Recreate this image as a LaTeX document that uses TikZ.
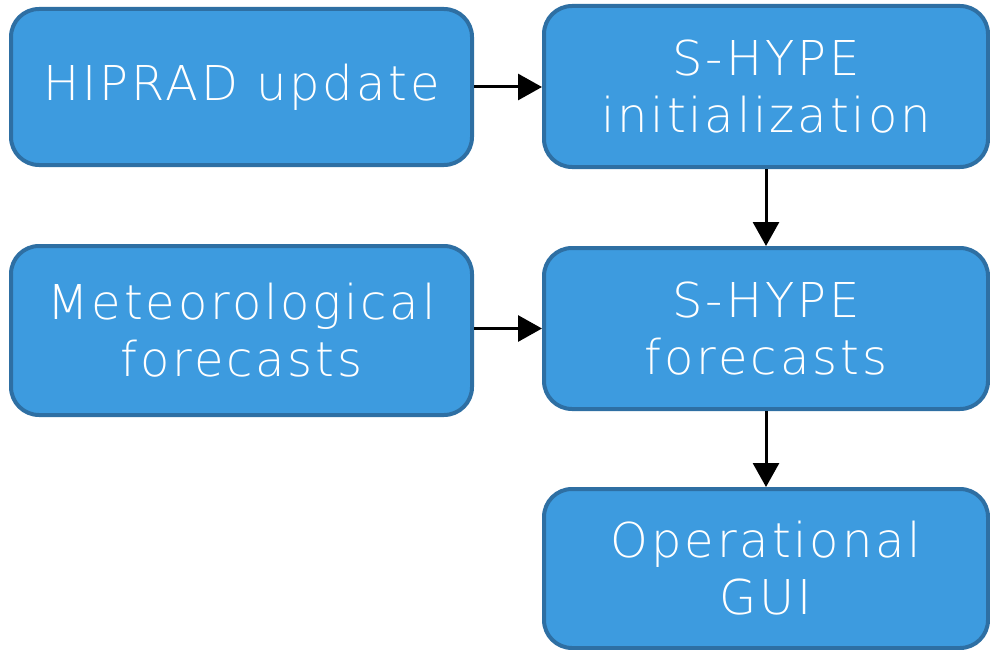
\documentclass[tikz,border=0pt]{standalone}
\usepackage{fontspec}
\setmainfont[LetterSpace=6]{DejaVu Sans ExtraLight}
\usetikzlibrary{arrows.meta}
\definecolor{boxfill}{HTML}{3D9BDF}
\definecolor{boxline}{HTML}{2E6FA3}
\begin{document}
\begin{tikzpicture}[x=1pt,y=-1pt,
  flowbox/.style={draw=boxline,fill=boxfill,line width=4pt,rounded corners=28pt,
    text=white,align=center,font=\fontsize{48}{57}\selectfont,inner sep=0pt},
  flowarrow/.style={line width=3pt,-{Triangle[length=24pt,width=26pt]}}]
\useasboundingbox (0,0) rectangle (990,650);
\node[flowbox,minimum width=461pt,minimum height=156pt] (hiprad) at (241.5,87) {HIPRAD update};
\node[flowbox,minimum width=444pt,minimum height=161pt] (init) at (766,86.5) {S-HYPE\\initialization};
\node[flowbox,minimum width=461pt,minimum height=169pt] (meteo) at (241.5,330.5) {Meteorological\\forecasts};
\node[flowbox,minimum width=444pt,minimum height=161pt] (fc) at (766,328.5) {S-HYPE\\forecasts};
\node[flowbox,minimum width=444pt,minimum height=159pt] (gui) at (766,568.5) {Operational\\GUI};
\draw[flowarrow] (hiprad.east) -- (init.west|-hiprad.east);
\draw[flowarrow] (meteo.east|-fc.west) -- (fc.west);
\draw[flowarrow] (init.south) -- (fc.north);
\draw[flowarrow] (fc.south) -- (gui.north);
\end{tikzpicture}
\end{document}
